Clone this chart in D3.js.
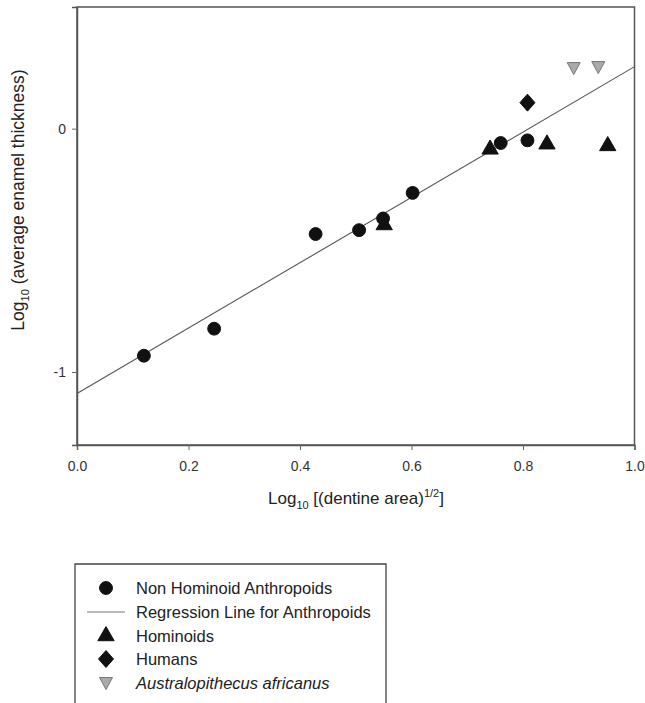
<!DOCTYPE html>
<html>
<head>
<meta charset="utf-8">
<script src="https://cdn.jsdelivr.net/npm/d3@7"></script>
<style>
  body { margin: 0; background: #fff; }
  text { font-family: "Liberation Sans", Arial, sans-serif; }
</style>
</head>
<body>
<div id="chart"></div>
<script>
// values
const nonHominoid = [
  [0.120, -0.933], [0.246, -0.822], [0.428, -0.433], [0.506, -0.417],
  [0.549, -0.369], [0.602, -0.264], [0.760, -0.059], [0.808, -0.048]
];
const hominoids = [[0.551, -0.396], [0.741, -0.085], [0.843, -0.064], [0.952, -0.071]];
const humans = [[0.808, 0.107]];
const australopithecus = [[0.891, 0.249], [0.935, 0.253]];
const regression = { intercept: -1.088, slope: 1.343 };
const xTicks = [0, 0.2, 0.4, 0.6, 0.8, 1.0];
const yTicks = [0, -1];
const legendLabels = ["Non Hominoid Anthropoids", "Regression Line for Anthropoids", "Hominoids", "Humans", "Australopithecus africanus"];

const width = 645, height = 703;
const plotL = 77, plotR = 634.5, plotT = 7, plotB = 445;

const svg = d3.select('#chart').append('svg')
    .attr('width', width).attr('height', height);

const x = d3.scaleLinear().domain([0, 1]).range([plotL, plotR]);
const y = d3.scaleLinear().domain([-1.3, 0.5]).range([plotB, plotT]);

// frame
svg.append('rect')
   .attr('x', plotL).attr('y', plotT)
   .attr('width', plotR - plotL).attr('height', plotB - plotT)
   .attr('fill', 'none').attr('stroke', '#555').attr('stroke-width', 1.5);

const xAxis = svg.append('g')
    .attr('transform', `translate(0,${plotB})`)
    .call(d3.axisBottom(x).tickValues(xTicks).tickFormat(d3.format('.1f')).tickSize(5).tickPadding(11));
const yAxis = svg.append('g')
    .attr('transform', `translate(${plotL},0)`)
    .call(d3.axisLeft(y).tickValues(yTicks).tickFormat(d3.format('d')).tickSize(5).tickPadding(6));

[xAxis, yAxis].forEach(a => {
  a.select('.domain').attr('stroke', '#555').attr('stroke-width', 1.5);
  a.selectAll('.tick line').attr('stroke', '#666');
  a.selectAll('.tick text').attr('fill', '#333').style('font-size', '14px')
   .style('font-family', '"Liberation Sans", Arial, sans-serif');
});
yAxis.selectAll('.tick text').text(d => d < 0 ? '-' + Math.abs(d) : d);

// regression line
svg.append('line')
   .attr('x1', x(0)).attr('y1', y(regression.intercept))
   .attr('x2', x(1)).attr('y2', y(regression.intercept + regression.slope))
   .attr('stroke', '#555').attr('stroke-width', 1.1);

const sym = (type, size) => d3.symbol().type(type).size(size)();

function drawPoints(data, path, fill, stroke) {
  svg.append('g').selectAll('path')
     .data(data).enter().append('path')
     .attr('d', path)
     .attr('transform', d => `translate(${x(d[0])},${y(d[1])})`)
     .attr('fill', fill).attr('stroke', stroke).attr('stroke-width', 1);
}

const circlePath = sym(d3.symbolCircle, 130);
const triPath = sym(d3.symbolTriangle, 115);
const diamondPath = 'M0,-8.5L7.5,0L0,8.5L-7.5,0Z';
const downTri = 'M-6.5,-5.5L6.5,-5.5L0,6.5Z';

drawPoints(nonHominoid, circlePath, '#111', '#111');
drawPoints(hominoids, triPath, '#111', '#111');
drawPoints(humans, diamondPath, '#111', '#111');
drawPoints(australopithecus, downTri, '#aaa', '#777');

// axis titles
const xt = svg.append('text')
   .attr('x', 356).attr('y', 504)
   .attr('text-anchor', 'middle').attr('fill', '#222')
   .style('font-size', '17px');
xt.append('tspan').text('Log');
xt.append('tspan').text('10').style('font-size', '11px').attr('dy', 5);
xt.append('tspan').text(' [(dentine area)').attr('dy', -5);
xt.append('tspan').text('1/2').style('font-size', '11px').attr('dy', -7);
xt.append('tspan').text(']').attr('dy', 7);

const yt = svg.append('text')
   .attr('transform', 'translate(24,200) rotate(-90)')
   .attr('text-anchor', 'middle').attr('fill', '#222')
   .style('font-size', '17.5px');
yt.append('tspan').text('Log');
yt.append('tspan').text('10').style('font-size', '11px').attr('dy', 5);
yt.append('tspan').text(' (average enamel thickness)').attr('dy', -5);

// legend
const lg = svg.append('g');
lg.append('path')
  .attr('d', `M75,${height + 2}V564H386V${height + 2}`)
  .attr('fill', 'none').attr('stroke', '#444').attr('stroke-width', 1.3);

const rowY = [588, 612, 636, 659, 683];
const legendSymbols = [
  { path: circlePath, fill: '#111', stroke: '#111' },
  null,
  { path: triPath, fill: '#111', stroke: '#111' },
  { path: diamondPath, fill: '#111', stroke: '#111' },
  { path: downTri, fill: '#aaa', stroke: '#777' }
];
legendLabels.forEach((label, i) => {
  const s = legendSymbols[i];
  if (s) {
    lg.append('path').attr('d', s.path)
      .attr('transform', `translate(106,${rowY[i]})`)
      .attr('fill', s.fill).attr('stroke', s.stroke);
  } else {
    lg.append('line').attr('x1', 87).attr('x2', 125)
      .attr('y1', rowY[i]).attr('y2', rowY[i])
      .attr('stroke', '#777').attr('stroke-width', 1);
  }
  lg.append('text')
    .attr('x', 136).attr('y', rowY[i] + 6)
    .attr('fill', '#222').style('font-size', '16.5px')
    .style('font-style', i === 4 ? 'italic' : 'normal')
    .text(label);
});
</script>
</body>
</html>
